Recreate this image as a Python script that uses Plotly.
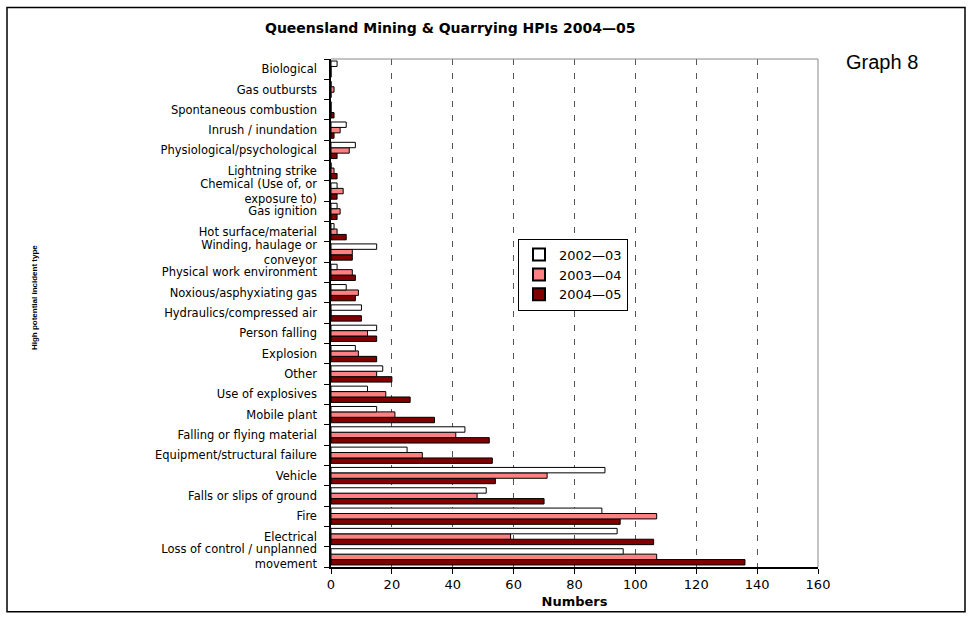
import plotly.graph_objects as go

categories = [
    "Loss of control / unplanned<br>movement",
    "Electrical",
    "Fire",
    "Falls or slips of ground",
    "Vehicle",
    "Equipment/structural failure",
    "Falling or flying material",
    "Mobile plant",
    "Use of explosives",
    "Other",
    "Explosion",
    "Person falling",
    "Hydraulics/compressed air",
    "Noxious/asphyxiating gas",
    "Physical work environment",
    "Winding, haulage or<br>conveyor",
    "Hot surface/material",
    "Gas ignition",
    "Chemical (Use of, or<br>exposure to)",
    "Lightning strike",
    "Physiological/psychological",
    "Inrush / inundation",
    "Spontaneous combustion",
    "Gas outbursts",
    "Biological",
]

y2002_03 = [96, 94, 89, 51, 90, 25, 44, 15, 12, 17, 8, 15, 10, 5, 2, 15, 1, 2, 2, 0, 8, 5, 0, 0, 2]
y2003_04 = [107, 59, 107, 48, 71, 30, 41, 21, 18, 15, 9, 12, 0, 9, 7, 7, 2, 3, 4, 1, 6, 3, 0, 1, 0]
y2004_05 = [136, 106, 95, 70, 54, 53, 52, 34, 26, 20, 15, 15, 10, 8, 8, 7, 5, 2, 2, 2, 2, 1, 1, 0, 0]

series_names = ["2002\u201403", "2003\u201404", "2004\u201405"]
series_colors = ["#FFFFFF", "#FF8080", "#800000"]

FONT = "DejaVu Sans, Arial, sans-serif"

fig = go.Figure()
# add in reverse so 2002-03 sits at the top of each group
for name, vals, col in reversed(list(zip(series_names, [y2002_03, y2003_04, y2004_05], series_colors))):
    fig.add_trace(go.Bar(
        y=categories, x=vals, name=name, orientation="h",
        marker=dict(color=col, line=dict(color="#000000", width=1)),
    ))

# pixel -> paper helpers
L, R, T, B = 331, 818, 59, 571
def px(x):
    return (x - L) / (R - L)
def py(y):
    return (B - y) / (B - T)

fig.update_layout(
    width=968, height=619,
    margin=dict(l=L, r=968 - R, t=T, b=619 - B),
    paper_bgcolor="white", plot_bgcolor="white",
    barmode="group", bargap=0.2, bargroupgap=0,
    font=dict(family=FONT, size=13, color="black"),
    showlegend=True,
    legend=dict(
        x=px(518), y=py(240), xanchor="left", yanchor="top",
        bgcolor="white", bordercolor="black", borderwidth=1,
        traceorder="reversed", font=dict(family=FONT, size=13),
        itemsizing="constant", tracegroupgap=0,
    ),
    xaxis=dict(
        range=[0, 160], dtick=20, tick0=0,
        showline=True, linecolor="black", linewidth=1.5,
        ticks="outside", ticklen=5, tickcolor="black",
        showgrid=True, gridcolor="#555555", griddash="6px,8px", gridwidth=1,
        zeroline=False,
        tickfont=dict(family=FONT, size=13),
        title=dict(text="<b>Numbers</b>", font=dict(family=FONT, size=13), standoff=6),
    ),
    yaxis=dict(
        type="category", showline=True, linecolor="black", linewidth=1.5,
        ticks="outside", ticklen=5, tickcolor="black", tickson="boundaries",
        showgrid=False, zeroline=False,
        tickfont=dict(family=FONT, size=11.5),
        ticklabelstandoff=10,
    ),
)

# gray plot-area border top and right
fig.add_shape(type="line", xref="paper", yref="paper", x0=0, x1=1, y0=1, y1=1,
              line=dict(color="#888888", width=1))
fig.add_shape(type="line", xref="paper", yref="paper", x0=1, x1=1, y0=0, y1=1,
              line=dict(color="#888888", width=1))
# outer frame
fig.add_shape(type="rect", xref="paper", yref="paper",
              x0=px(7), x1=px(965), y0=py(616), y1=py(7),
              line=dict(color="black", width=1.5), fillcolor="rgba(0,0,0,0)", layer="below")

fig.add_annotation(text="<b>Queensland Mining & Quarrying HPIs 2004\u201405</b>",
                   xref="paper", yref="paper", x=px(450), y=py(28),
                   xanchor="center", yanchor="middle",
                   showarrow=False, font=dict(family=FONT, size=14, color="black"))
fig.add_annotation(text="Graph 8", xref="paper", yref="paper", x=px(882), y=py(62),
                   xanchor="center", yanchor="middle",
                   showarrow=False, font=dict(family="Arial, Liberation Sans, sans-serif", size=20, color="black"))
fig.add_annotation(text="<b>High potential incident type</b>", xref="paper", yref="paper",
                   x=px(34), y=py(300), xanchor="center", yanchor="middle",
                   textangle=-90, showarrow=False,
                   font=dict(family="Liberation Sans, Arial, sans-serif", size=8, color="black"))

fig.write_html("out.html")
